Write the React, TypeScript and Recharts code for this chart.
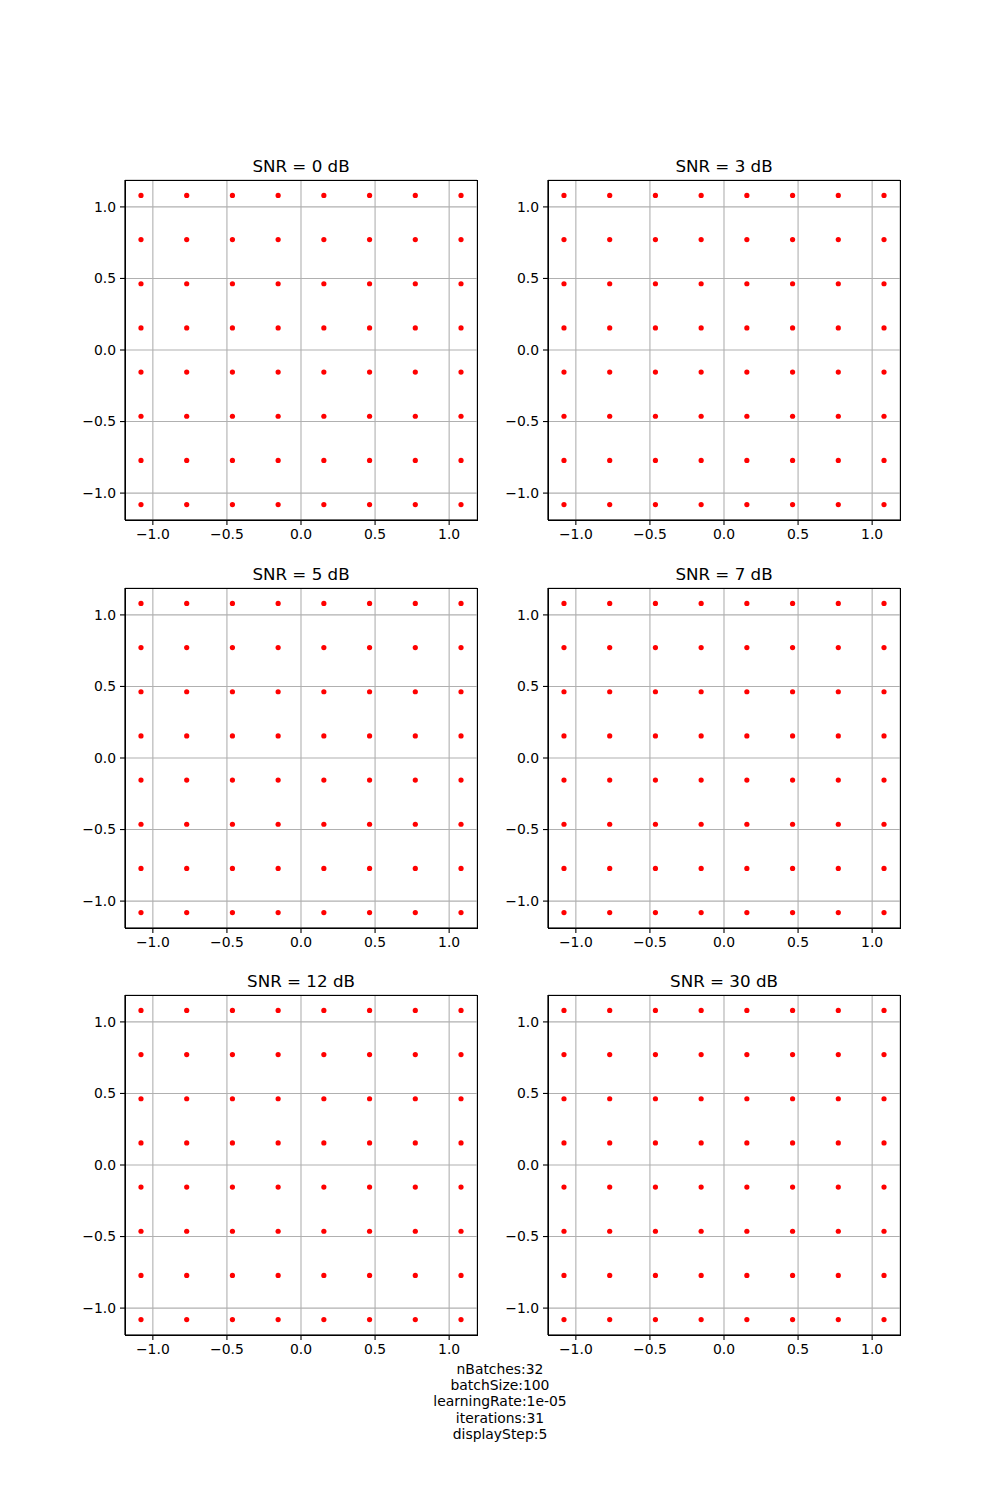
import React from 'react';
import { ScatterChart, Scatter, XAxis, YAxis, CartesianGrid } from 'recharts';

// Read values
const snrValues = [0, 3, 5, 7, 12, 30];
const iLevels = [-1.0801, -0.7715, -0.4629, -0.1543, 0.1543, 0.4629, 0.7715, 1.0801];
const qLevels = [-1.0801, -0.7715, -0.4629, -0.1543, 0.1543, 0.4629, 0.7715, 1.0801];
const axisTicks = [-1.0, -0.5, 0.0, 0.5, 1.0];
const axisDomain = [-1.188, 1.188];
const captionLines = [
  'nBatches:32',
  'batchSize:100',
  'learningRate:1e-05',
  'iterations:31',
  'displayStep:5',
];

const FONT = '"DejaVu Sans", sans-serif';
const PLOT_W = 352;
const PLOT_H = 340;
const colLefts = [125, 548];
const rowTops = [180, 588, 995];

const constellation = iLevels.flatMap((i) => qLevels.map((q) => ({ x: i, y: q })));

const fmt = (v: number) => {
  const s = v.toFixed(1);
  return s.startsWith('-') ? '\u2212' + s.slice(1) : s;
};

const Dot = (props: any) => {
  const { cx, cy } = props;
  if (cx == null || cy == null) return null;
  return <circle cx={cx} cy={cy} r={2.6} fill="#ff0000" />;
};

const tickStyle = { fill: '#000', fontSize: 13.9, fontFamily: FONT };

function Panel({ snr, left, top }: { snr: number; left: number; top: number }) {
  const ML = 60;
  const MT = 40;
  const MR = 10;
  const XH = 35;
  return (
    <>
      <div
        style={{
          position: 'absolute',
          left: left,
          top: top - 24,
          width: PLOT_W,
          textAlign: 'center',
          fontFamily: FONT,
          fontSize: 16.7,
          lineHeight: '20px',
          color: '#000',
        }}
      >
        {`SNR = ${snr} dB`}
      </div>
      <div style={{ position: 'absolute', left: left - ML, top: top - MT }}>
        <ScatterChart
          width={ML + PLOT_W + MR}
          height={MT + PLOT_H + XH}
          margin={{ top: MT, right: MR, bottom: 0, left: 0 }}
        >
          <CartesianGrid stroke="#b0b0b0" strokeWidth={1.1} />
          <XAxis
            dataKey="x"
            type="number"
            domain={axisDomain}
            ticks={axisTicks}
            tickFormatter={fmt}
            allowDataOverflow
            height={XH}
            stroke="#000"
            strokeWidth={1.1}
            tickSize={5}
            tickMargin={4}
            tick={tickStyle}
          />
          <YAxis
            dataKey="y"
            type="number"
            domain={axisDomain}
            ticks={axisTicks}
            tickFormatter={fmt}
            allowDataOverflow
            width={ML}
            stroke="#000"
            strokeWidth={1.1}
            tickSize={5}
            tickMargin={4}
            tick={tickStyle}
          />
          <Scatter data={constellation} shape={Dot} isAnimationActive={false} />
        </ScatterChart>
      </div>
      <div
        style={{
          position: 'absolute',
          left: left - 0.5,
          top: top - 0.5,
          width: PLOT_W + 1,
          height: PLOT_H + 1,
          border: '1.1px solid #000',
          boxSizing: 'border-box',
          pointerEvents: 'none',
        }}
      />
    </>
  );
}

export default function App() {
  return (
    <div
      style={{
        position: 'absolute',
        left: 0,
        top: 0,
        width: 1000,
        height: 1500,
        background: '#fff',
      }}
    >
      {snrValues.map((snr, idx) => (
        <Panel
          key={snr}
          snr={snr}
          left={colLefts[idx % 2]}
          top={rowTops[Math.floor(idx / 2)]}
        />
      ))}
      <div
        style={{
          position: 'absolute',
          left: 0,
          top: 1361,
          width: 1000,
          textAlign: 'center',
          fontFamily: FONT,
          fontSize: 13.9,
          lineHeight: '16.2px',
          color: '#000',
        }}
      >
        {captionLines.map((l) => (
          <div key={l}>{l}</div>
        ))}
      </div>
    </div>
  );
}
